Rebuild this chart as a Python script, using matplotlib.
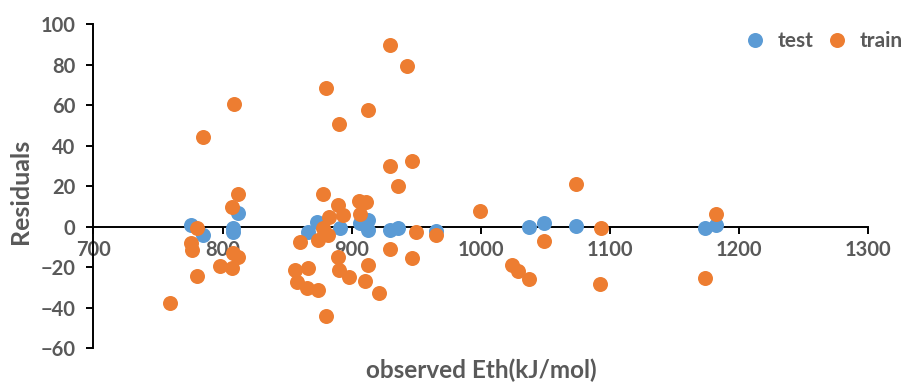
import matplotlib
matplotlib.use("Agg")
import matplotlib.pyplot as plt

# Residuals of the threshold-energy model versus observed Eth (kJ/mol)
test_x = [775.8, 785.0, 808.2, 808.2, 812.0, 866.0, 873.0, 890.8, 906.3, 912.7,
          912.9, 930.0, 936.3, 965.1, 1037.8, 1048.7, 1074.0, 1174.0, 1182.3]
test_y = [1.0, -4.1, -0.5, -2.7, 6.6, -2.5, 2.4, -0.5, 1.8, 3.1,
          -1.7, -1.5, -0.8, -2.3, -0.4, 1.9, 0.3, -0.8, 0.8]

train_x = [759.5, 775.5, 776.5, 779.9, 779.9, 784.8, 797.9, 807.7, 808.5, 807.7,
           808.0, 811.8, 812.0, 856.0, 857.5, 860.4, 865.3, 866.3, 873.8, 874.0,
           877.5, 877.5, 880.3, 880.3, 882.0, 882.4, 889.2, 889.5, 890.2, 890.5,
           893.3, 898.0, 906.0, 906.8, 910.1, 911.2, 912.8, 913.0, 921.0, 930.0,
           930.0, 930.0, 936.3, 942.9, 946.8, 947.0, 950.2, 965.1, 999.5, 1024.1,
           1028.8, 1037.8, 1048.7, 1074.0, 1093.3, 1092.8, 1174.0, 1182.3]
train_y = [-37.7, -8.1, -11.5, -0.5, -24.4, 44.3, -19.3, 9.8, 60.4, -20.5,
           -13.0, 16.2, -15.2, -21.4, -27.5, -7.6, -30.5, -20.6, -31.4, -6.6,
           16.0, -0.8, 68.6, -44.0, -4.1, 4.9, 10.8, -14.9, 50.7, -21.4,
           5.7, -25.0, 12.7, 6.1, -26.7, 12.2, -19.0, 57.6, -32.8, 89.7,
           29.9, -11.1, 20.1, 79.1, 32.4, -15.5, -2.8, -4.3, 7.8, -19.0,
           -21.8, -25.9, -7.1, 21.0, -0.5, -28.5, -25.2, 6.1]

x_ticks = [700, 800, 900, 1000, 1100, 1200, 1300]
y_ticks = [-60, -40, -20, 0, 20, 40, 60, 80, 100]

plt.rcParams['font.family'] = ['Lato', 'DejaVu Sans']
text_color = '#595959'

fig = plt.figure(figsize=(9.04, 3.82), dpi=100)
ax = fig.add_axes([0.1034, 0.089, 0.8566, 0.848])

ax.plot(test_x, test_y, 'o', color='#5B9BD5', markersize=10.8,
        markeredgewidth=0, label='test', zorder=3)
ax.plot(train_x, train_y, 'o', color='#ED7D31', markersize=10.8,
        markeredgewidth=0, label='train', zorder=4)

ax.set_xlim(700, 1300)
ax.set_ylim(-60, 100)
ax.set_xticks(x_ticks)
ax.set_yticks(y_ticks)

ax.spines['top'].set_visible(False)
ax.spines['right'].set_visible(False)
ax.spines['bottom'].set_position(('data', 0))
for s in ('left', 'bottom'):
    ax.spines[s].set_linewidth(1.4)
    ax.spines[s].set_color('black')
    ax.spines[s].set_zorder(2)

ax.tick_params(axis='both', direction='out', length=5, width=1.4,
               colors='black', labelcolor=text_color, labelsize=14.5)
ax.tick_params(axis='x', pad=5)
ax.tick_params(axis='y', pad=8)
for lbl in ax.get_xticklabels() + ax.get_yticklabels():
    lbl.set_fontweight('bold')

fig.text(0.023, 0.5, 'Residuals', rotation=90, fontsize=18,
         fontweight='bold', color=text_color, ha='center', va='center')
fig.text(0.532, 0.03, 'observed Eth(kJ/mol)', fontsize=17.5, fontweight='bold',
         color=text_color, ha='center', va='center')

leg = ax.legend(loc='center right', bbox_to_anchor=(0.9985, 0.893),
                bbox_transform=fig.transFigure, ncol=2,
                frameon=False, handletextpad=0.6, columnspacing=0.6,
                prop={'size': 15, 'weight': 'bold'}, handlelength=1.0,
                borderpad=0, borderaxespad=0)
for t in leg.get_texts():
    t.set_color(text_color)

fig.savefig('out.png', dpi=100)
